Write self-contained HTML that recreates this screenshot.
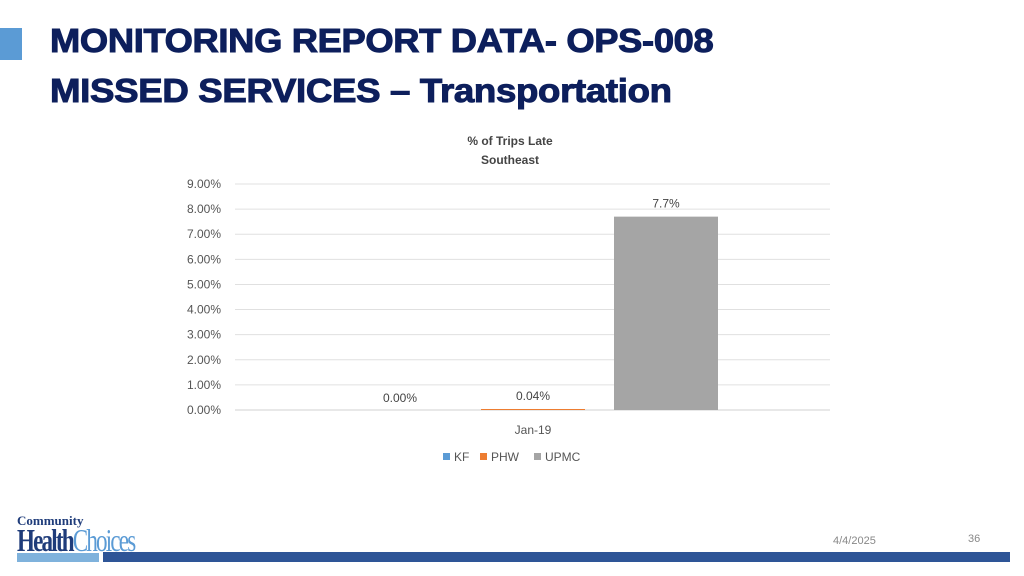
<!DOCTYPE html>
<html><head><meta charset="utf-8"><style>
body{margin:0;width:1024px;height:576px;background:#fff;position:relative;overflow:hidden;font-family:"Liberation Sans",sans-serif}
.t{position:absolute;left:50px;font-weight:bold;color:#0d1f5c;font-size:33px;letter-spacing:-0.3px;transform:scaleX(1.10);transform-origin:left;-webkit-text-stroke:1px #0d1f5c;white-space:nowrap;line-height:40px}
</style></head><body>
<div style="position:absolute;left:0;top:28px;width:22px;height:32px;background:#5b9bd5"></div>
<div class="t" style="top:21px">MONITORING REPORT DATA- OPS-008</div>
<div class="t" style="top:71px;transform:scaleX(1.11)">MISSED SERVICES – Transportation</div>
<svg id="chart" width="1024" height="576" style="position:absolute;left:0;top:0"></svg>
<div style="position:absolute;left:17px;top:514px;width:180px;font-family:'Liberation Serif',serif;color:#1f3c7a">
<div style="font-size:13px;font-weight:bold;line-height:13px">Community</div>
<div style="font-size:32px;line-height:26px;letter-spacing:-2.5px;transform:scaleX(0.72);transform-origin:left"><b>Health</b><span style="color:#5b9bd5">Choices</span></div>
</div>
<div style="position:absolute;left:17px;top:553px;width:82px;height:9px;background:#7fb2dc"></div>
<div style="position:absolute;left:103px;top:552px;width:907px;height:10px;background:#2e5597"></div>
<div style="position:absolute;left:833px;top:535px;font-size:11px;color:#888">4/4/2025</div>
<div style="position:absolute;left:968px;top:533px;font-size:11px;color:#888">36</div>
<script>
const ticks=[0,1,2,3,4,5,6,7,8,9];
const series=["KF","PHW","UPMC"];
const values=[0,0.04,7.7];
const labels=["0.00%","0.04%","7.7%"];
const colors=["#5b9bd5","#ed7d31","#a5a5a5"];
const category="Jan-19";
const svg=document.getElementById('chart');const NS="http://www.w3.org/2000/svg";
const y0=410,pp=(410-184)/9,x0=235,x1=830;
const Y=v=>y0-v*pp;
function el(t,a,txt){const e=document.createElementNS(NS,t);for(const k in a)e.setAttribute(k,a[k]);if(txt!==undefined)e.textContent=txt;svg.appendChild(e);return e;}
let e;
e=el('text',{x:510,y:145,'text-anchor':'middle','font-size':12,fill:'#444','font-weight':'bold'},'% of Trips Late');


e=el('text',{x:510,y:164,'text-anchor':'middle','font-size':12,fill:'#444','font-weight':'bold'},'Southeast');


ticks.forEach(t=>{
e=el('line',{x1:x0,x2:x1,y1:Y(t),y2:Y(t),stroke:t?'#e0e0e0':'#d0d0d0'});


e=el('text',{x:221,y:Y(t)+4,'text-anchor':'end','font-size':12,fill:'#555'},t.toFixed(2)+'%');


});
const bw=104,step=133,cx=533;
values.forEach((v,i)=>{
const c=cx+(i-1)*step;
e=el('rect',{x:c-bw/2,y:Y(v),width:bw,height:Math.max(0,y0-Y(v)),fill:colors[i]});


e=el('text',{x:c,y:Y(v)-9,'text-anchor':'middle','font-size':12,fill:'#444'},labels[i]);
if(i==0)e.setAttribute('y',y0-8);


});
e=el('text',{x:cx,y:434,'text-anchor':'middle','font-size':12,fill:'#555'},category);


const lx=[443,480,534];
series.forEach((s,i)=>{
e=el('rect',{x:lx[i],y:453,width:7,height:7,fill:colors[i]});


e=el('text',{x:lx[i]+11,y:461,'font-size':12,fill:'#555'},s);


});
</script>
</body></html>
